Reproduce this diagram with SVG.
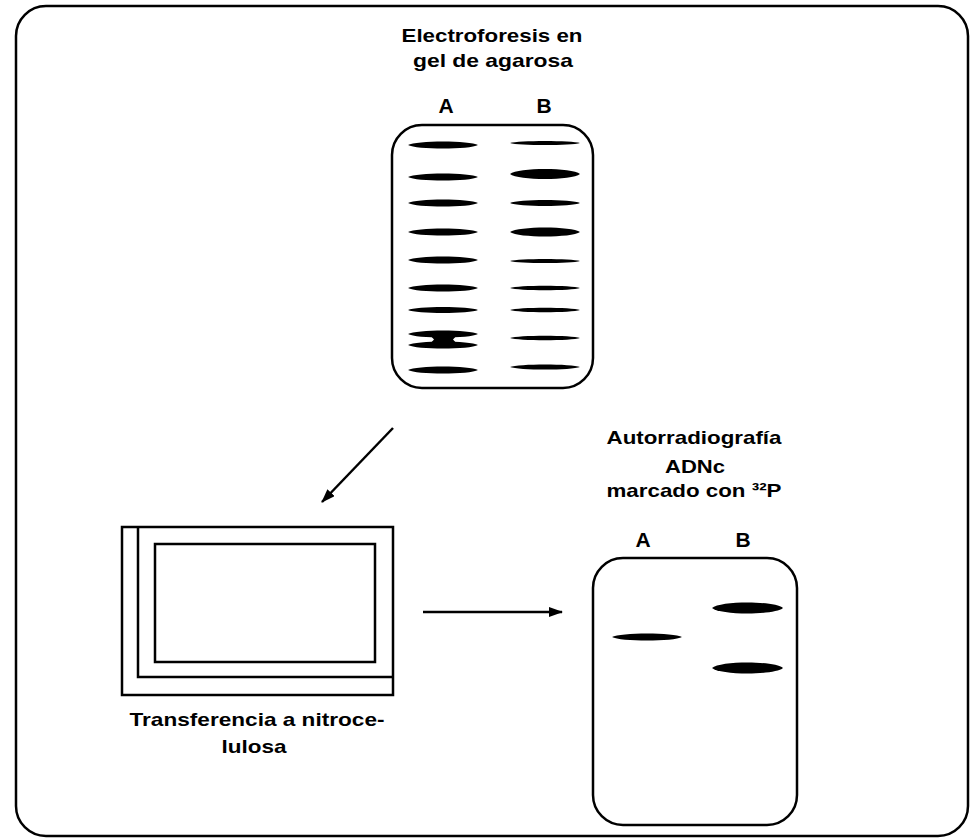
<svg xmlns="http://www.w3.org/2000/svg" width="977" height="839" viewBox="0 0 977 839">
<style>
.ln{fill:none;stroke:#000;stroke-width:2.5}
.t{font-family:"Liberation Sans",Arial,sans-serif;font-weight:bold;font-size:19px;fill:#000;text-anchor:middle}
.lab{font-family:"Liberation Sans",Arial,sans-serif;font-weight:bold;font-size:21px;fill:#000;text-anchor:middle}
.band{fill:#000}
</style>
<defs>
<marker id="ah" viewBox="0 0 14 10" refX="13" refY="5" markerWidth="14" markerHeight="10" markerUnits="userSpaceOnUse" orient="auto">
<path d="M0,0 L14,5 L0,10 Z" fill="#000"/>
</marker>
</defs>
<rect id="frame" class="ln" x="16" y="6" width="952" height="830" rx="30"/>

<g id="gel">
<text class="t" x="492" y="42" textLength="181" lengthAdjust="spacingAndGlyphs">Electroforesis en</text>
<text class="t" x="493" y="67" textLength="160" lengthAdjust="spacingAndGlyphs">gel de agarosa</text>
<text class="lab" x="446" y="113">A</text>
<text class="lab" x="544" y="113">B</text>
<rect class="ln" x="392" y="125" width="201" height="263" rx="30"/>
<g class="band">
<path d="M408,145 C416,140.3 470,140.3 478,145 C470,149.7 416,149.7 408,145 Z"/>
<path d="M408,177 C416,172.3 470,172.3 478,177 C470,181.7 416,181.7 408,177 Z"/>
<path d="M408,203 C416,198.3 470,198.3 478,203 C470,207.7 416,207.7 408,203 Z"/>
<path d="M408,232 C416,227.3 470,227.3 478,232 C470,236.7 416,236.7 408,232 Z"/>
<path d="M408,260 C416,255.3 470,255.3 478,260 C470,264.7 416,264.7 408,260 Z"/>
<path d="M408,288 C416,283.3 470,283.3 478,288 C470,292.7 416,292.7 408,288 Z"/>
<path d="M408,310 C416,306 470,306 478,310 C470,314 416,314 408,310 Z"/>
<path d="M408,334 C416,329.3 470,329.3 478,334 C470,338.7 416,338.7 408,334 Z"/>
<path d="M408,345 C416,340.3 470,340.3 478,345 C470,349.7 416,349.7 408,345 Z"/>
<path d="M428,333 L459,333 L453,339.5 L459,346 L428,346 L434,339.5 Z"/>
<path d="M408,370 C416,365.3 470,365.3 478,370 C470,374.7 416,374.7 408,370 Z"/>
<path d="M510,143 C518,140.3 572,140.3 580,143 C572,145.7 518,145.7 510,143 Z"/>
<path d="M510,174 C518,167.3 572,167.3 580,174 C572,180.7 518,180.7 510,174 Z"/>
<path d="M510,203 C518,199 572,199 580,203 C572,207 518,207 510,203 Z"/>
<path d="M510,232 C518,226 572,226 580,232 C572,238 518,238 510,232 Z"/>
<path d="M510,261 C518,258.3 572,258.3 580,261 C572,263.7 518,263.7 510,261 Z"/>
<path d="M510,288 C518,285 572,285 580,288 C572,291 518,291 510,288 Z"/>
<path d="M510,310 C518,307 572,307 580,310 C572,313 518,313 510,310 Z"/>
<path d="M510,338 C518,335 572,335 580,338 C572,341 518,341 510,338 Z"/>
<path d="M510,367 C518,363.6 572,363.6 580,367 C572,370.4 518,370.4 510,367 Z"/>
</g>
</g>

<g id="transfer">
<rect class="ln" x="122" y="527" width="271" height="168"/>
<path class="ln" d="M138,527 L138,677 L393,677"/>
<rect class="ln" x="155" y="544" width="220" height="118"/>
<text class="t" x="257" y="726" textLength="255" lengthAdjust="spacingAndGlyphs">Transferencia a nitroce-</text>
<text class="t" x="254" y="753" textLength="65" lengthAdjust="spacingAndGlyphs">lulosa</text>
</g>

<g id="autorad">
<text class="t" x="694" y="444" textLength="175" lengthAdjust="spacingAndGlyphs">Autorradiografía</text>
<text class="t" x="695" y="473" textLength="60" lengthAdjust="spacingAndGlyphs">ADNc</text>
<text class="t" x="694" y="497" textLength="175" lengthAdjust="spacingAndGlyphs">marcado con ³²P</text>
<text class="lab" x="643" y="547">A</text>
<text class="lab" x="743" y="547">B</text>
<rect class="ln" x="593" y="558" width="204" height="267" rx="30"/>
<g class="band">
<path d="M612,637 C620,632.3 674,632.3 682,637 C674,641.7 620,641.7 612,637 Z"/>
<path d="M712,608 C720,600.7 775,600.7 783,608 C775,615.3 720,615.3 712,608 Z"/>
<path d="M712,668 C720,660.7 775,660.7 783,668 C775,675.3 720,675.3 712,668 Z"/>
</g>
</g>

<g id="connectors">
<line class="ln" x1="393" y1="428" x2="322" y2="502" marker-end="url(#ah)"/>
<line class="ln" x1="423" y1="612" x2="562" y2="612" marker-end="url(#ah)"/>
</g>
</svg>
